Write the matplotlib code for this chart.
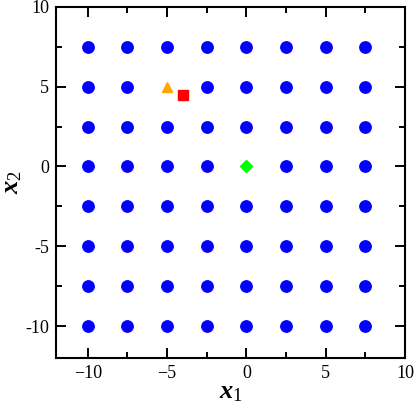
import matplotlib
matplotlib.use("Agg")
import matplotlib.pyplot as plt
from matplotlib.ticker import FixedLocator, FixedFormatter, MultipleLocator
import numpy as np

plt.rcParams['font.family'] = ['Liberation Serif', 'DejaVu Serif']
plt.rcParams['mathtext.fontset'] = 'custom'
plt.rcParams['mathtext.bf'] = 'Liberation Serif:bold:italic'
plt.rcParams['mathtext.it'] = 'Liberation Serif:italic'
plt.rcParams['mathtext.rm'] = 'Liberation Serif'

grid_x = [-10, -7.5, -5, -2.5, 0, 2.5, 5, 7.5]
grid_y = [-10, -7.5, -5, -2.5, 0, 2.5, 5, 7.5]
triangle_pt = (-5, 5)
square_pt = (-4, 4.5)
diamond_pt = (0, 0)

xticks = [-10, -5, 0, 5, 10]
xticklabels = ['\u221210', '\u22125', '0', '5', '10']
yticks = [-10, -5, 0, 5, 10]
yticklabels = ['-10', '-5', '0', '5', '10']

fig = plt.figure(figsize=(4.15, 4.05), dpi=100)
ax = fig.add_axes([0.135, 0.116, 0.841, 0.867])

excluded = {triangle_pt, diamond_pt}
bx, by = [], []
for yv in grid_y:
    for xv in grid_x:
        if (xv, yv) in excluded:
            continue
        bx.append(xv)
        by.append(yv)
ax.plot(bx, by, 'o', color='#0000ff', markersize=8.2, linestyle='none')
ax.plot([triangle_pt[0]], [triangle_pt[1]], '^', color='#ffa500', markersize=7.5)
ax.plot([square_pt[0]], [square_pt[1]], 's', color='#ff0000', markersize=6.5)
ax.plot([diamond_pt[0]], [diamond_pt[1]], 'D', color='#00ff00', markersize=6.5)

ax.set_xlim(-12, 10)
ax.set_ylim(-12, 10)
ax.xaxis.set_major_locator(FixedLocator(xticks))
ax.xaxis.set_major_formatter(FixedFormatter(xticklabels))
ax.yaxis.set_major_locator(FixedLocator(yticks))
ax.yaxis.set_major_formatter(FixedFormatter(yticklabels))
ax.xaxis.set_minor_locator(MultipleLocator(2.5))
ax.yaxis.set_minor_locator(MultipleLocator(2.5))

ax.tick_params(which='both', direction='in', top=True, right=True, width=1.4)
ax.tick_params(which='major', length=7.2, labelsize=13, pad=5)
ax.tick_params(which='minor', length=4.3)
for s in ax.spines.values():
    s.set_linewidth(1.5)

ax.set_xlabel(r'$\mathbf{x}_{\mathit{1}}$', fontsize=19, labelpad=0)
ax.set_ylabel(r'$\mathbf{x}_{\mathit{2}}$', fontsize=19, labelpad=1)

fig.savefig('out.png', dpi=100)
